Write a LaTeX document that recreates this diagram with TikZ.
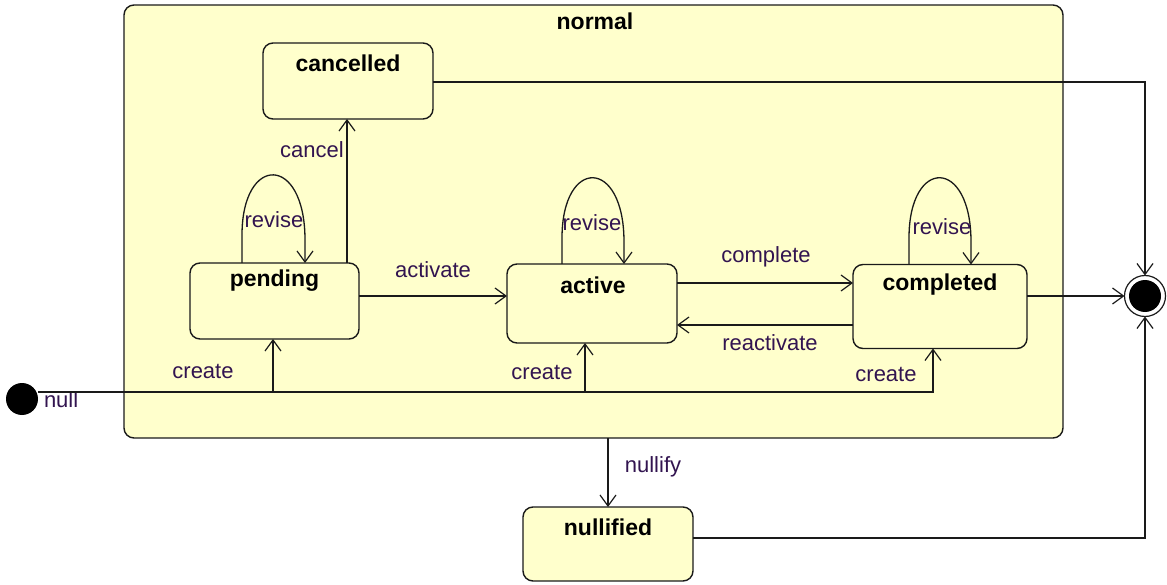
\documentclass[tikz,border=0pt]{standalone}
\usepackage{fontspec}
\setmainfont{Liberation Sans}
\usetikzlibrary{arrows.meta}
\definecolor{statefill}{HTML}{FFFFCC}
\definecolor{edgelabel}{RGB}{50,20,80}
\definecolor{linecol}{HTML}{1A1A1A}

\begin{document}
\begin{tikzpicture}[x=1pt,y=-1pt,
  every node/.style={inner sep=0pt, outer sep=0pt},
  statebox/.style={draw=linecol, line width=1.4pt, fill=statefill, rounded corners=10pt},
  statename/.style={font=\fontsize{23}{26}\selectfont\bfseries, text=black},
  edgetext/.style={font=\fontsize{22}{25}\selectfont, text=edgelabel},
  conn/.style={draw=linecol, line width=1.3pt},
  arr/.style={conn, -{Straight Barb[length=11pt,width=16pt,line width=1.2pt]}}
]
\useasboundingbox (0,0) rectangle (1167,585);

% composite state
\node[statebox, minimum width=939pt, minimum height=433pt] (normal) at (593.5,221.5) {};
\node[statename] (normalname) at (595,21) {normal};

% simple states
\node[statebox, minimum width=170pt, minimum height=76pt] (cancelled) at (348,81) {};
\node[statename] (cancelledname) at (348,63) {cancelled};

\node[statebox, minimum width=169pt, minimum height=76pt] (pending) at (274.5,301) {};
\node[statename] (pendingname) at (274.5,281) {pending};

\node[statebox, minimum width=170pt, minimum height=79pt] (active) at (592,303.5) {};
\node[statename] (activename) at (593,285) {active};

\node[statebox, minimum width=174pt, minimum height=84pt] (completed) at (940,306.5) {};
\node[statename] (completedname) at (940,285) {completed};

\node[statebox, minimum width=170pt, minimum height=74pt] (nullified) at (608,544) {};
\node[statename] (nullifiedname) at (608,527) {nullified};

% pseudo states
\node[circle, fill=black, minimum size=32pt] (init) at (22,399) {};
\node[edgetext, anchor=west] (nulltext) at (44,400) {null};
\node[circle, draw=linecol, line width=1.2pt, fill=white, minimum size=41pt,
      path picture={\fill[black] (path picture bounding box.center) circle (16pt);}]
      (final) at (1145,296) {};

% creation
\draw[arr] (init.east |- 0,392) -- (585,392) -| (active.south -| 585,0);
\draw[arr] (init.east |- 0,392) -- (933,392) -| (completed.south -| 933,0);
\draw[arr, line width=2.8pt] (init.east |- 0,392) -| (pending.south -| 273,0);
\node[edgetext] (createA) at (203,371) {create};
\node[edgetext] (createB) at (542,372) {create};
\node[edgetext] (createC) at (886,374) {create};

% transitions between states
\draw[arr] (pending.north -| 347,0) -- (cancelled.south -| 347,0);
\node[edgetext] (canceltext) at (312,150) {cancel};

\draw[arr] (pending.east |- 0,296) -- (active.west |- 0,296);
\node[edgetext] (activatetext) at (433,270) {activate};

\draw[arr] (active.east |- 0,283) -- (completed.west |- 0,283);
\node[edgetext] (completetext) at (766,257) {complete};

\draw[arr] (completed.west |- 0,325) -- (active.east |- 0,325);
\node[edgetext] (reactivatetext) at (770,343) {reactivate};

% self transitions
\draw[arr] (pending.north -| 242,0) -- (242,235)
  .. controls (242,154) and (305,154) .. (305,240) -- (pending.north -| 305,0);
\node[edgetext] (reviseA) at (274,220) {revise};
\draw[arr] (active.north -| 562,0) -- (562,238)
  .. controls (562,157) and (624,157) .. (624,242) -- (active.north -| 624,0);
\node[edgetext] (reviseB) at (592,223) {revise};
\draw[arr] (completed.north -| 909,0) -- (909,238)
  .. controls (909,157) and (971,157) .. (971,242) -- (completed.north -| 971,0);
\node[edgetext] (reviseC) at (942,227) {revise};

% termination
\draw[arr] (cancelled.east |- 0,82) -| (final.north);
\draw[arr] (completed.east |- final) -- (final.west);
\draw[arr] (nullified.east |- 0,538) -| (final.south);

\draw[arr] (normal.south -| nullified.north) -- (nullified.north);
\node[edgetext] (nullifytext) at (653,467) {nullify};
\end{tikzpicture}
\end{document}
